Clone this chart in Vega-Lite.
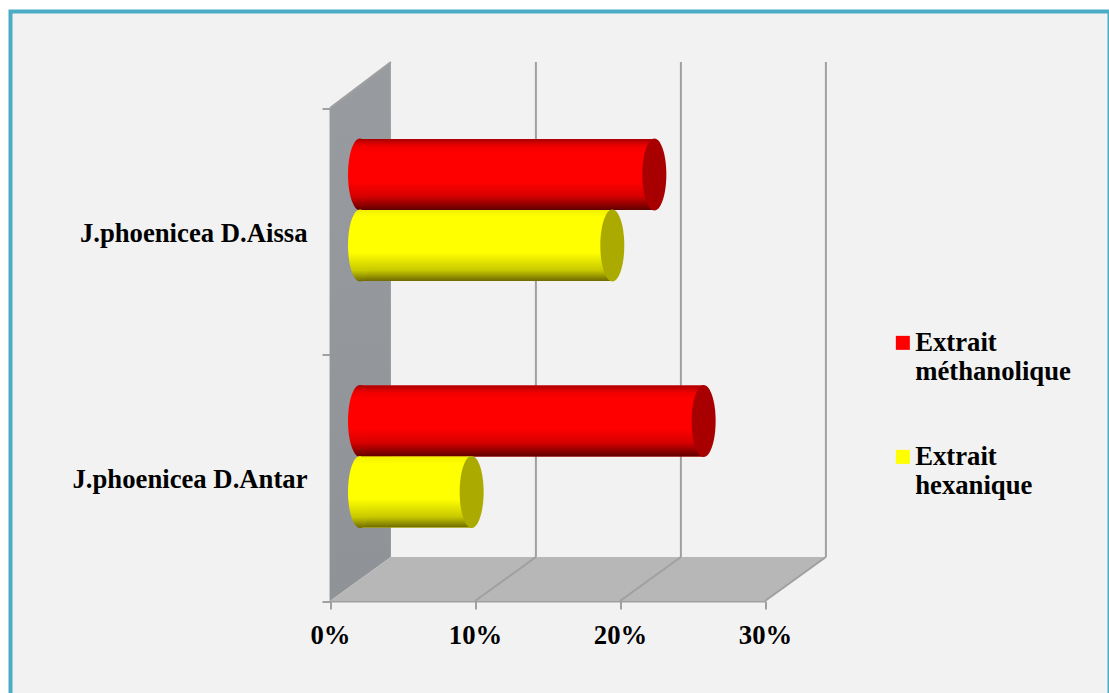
{
"$schema":"https://vega.github.io/schema/vega-lite/v6.json",
"width":1099,"height":686,
"autosize":{"type":"none"},
"padding":{"left":10.5,"top":11.5,"right":0,"bottom":0},
"background":"#ffffff",
"config":{"view":{"fill":"#f2f2f2","stroke":"#4bacc6","strokeWidth":4},"font":"Liberation Serif",
"axis":{"domainColor":"#a0a0a0","domainWidth":2,"tickColor":"#a0a0a0","tickWidth":2,"tickSize":8,"labelFont":"Liberation Serif","labelFontWeight":"bold","labelFontSize":26.7,"labelColor":"#000000","labelOverlap":false,"labelFlush":false,"grid":false,"zindex":1}},
"datasets":{
"extracts":[
{"species":"J.phoenicea D.Aissa","extract":"Extrait méthanolique","percent":20.3},
{"species":"J.phoenicea D.Aissa","extract":"Extrait hexanique","percent":17.4},
{"species":"J.phoenicea D.Antar","extract":"Extrait méthanolique","percent":23.7},
{"species":"J.phoenicea D.Antar","extract":"Extrait hexanique","percent":7.7}
],
"wall":[{"x":0,"low":0,"high":2},{"x":4.2,"low":0.1785,"high":2.1866}],
"floor":[{"x":0,"low":0,"high":0},{"x":4.2,"low":0,"high":0.1785},{"x":30,"low":0,"high":0.1785},{"x":34.2,"low":0.1785,"high":0.1785}],
"grid":[
{"x":14.2,"x2":14.2,"y":0.1785,"y2":2.1866},
{"x":24.2,"x2":24.2,"y":0.1785,"y2":2.1866},
{"x":34.2,"x2":34.2,"y":0.1785,"y2":2.1866},
{"x":10,"x2":14.2,"y":0,"y2":0.1785},
{"x":20,"x2":24.2,"y":0,"y2":0.1785},
{"x":30,"x2":34.2,"y":0,"y2":0.1785},
{"x":0,"x2":4.2,"y":2,"y2":2.1866}
]
},
"resolve":{"scale":{"y":"independent"}},
"layer":[
{"layer":[
{"data":{"name":"wall"},
 "mark":{"type":"area","color":{"gradient":"linear","x1":0,"y1":0,"x2":0,"y2":1,"stops":[{"offset":0,"color":"#989b9f"},{"offset":1,"color":"#8f9296"}]}},
 "encoding":{
  "x":{"field":"x","type":"quantitative","title":null,"scale":{"domain":[0,30],"range":[319.5,754.5],"nice":false,"zero":false},
   "axis":{"orient":"bottom","offset":-96.5,"values":[0,10,20,30],"labelExpr":"datum.value + '%'","labelPadding":13}},
  "y":{"field":"low","type":"quantitative","axis":null,"scale":{"domain":[0,2],"range":[589.5,96.5],"nice":false,"zero":false}},
  "y2":{"field":"high"}}},
{"data":{"name":"floor"},
 "mark":{"type":"area","color":"#b7b7b7"},
 "encoding":{
  "x":{"field":"x","type":"quantitative","title":null,
   "axis":{"orient":"bottom","offset":-96.5,"values":[0,10,20,30],"labelExpr":"datum.value + '%'","labelPadding":13}},
  "y":{"field":"low","type":"quantitative","axis":null},
  "y2":{"field":"high"}}},
{"data":{"name":"grid"},
 "mark":{"type":"rule","color":"#a0a0a0","strokeWidth":2},
 "encoding":{
  "x":{"field":"x","type":"quantitative","title":null,
   "axis":{"orient":"bottom","offset":-96.5,"values":[0,10,20,30],"labelExpr":"datum.value + '%'","labelPadding":13}},
  "x2":{"field":"x2"},
  "y":{"field":"y","type":"quantitative","axis":null},
  "y2":{"field":"y2"}}}
]},
{"data":{"name":"extracts"},
 "encoding":{
  "x":{"field":"percent","type":"quantitative","stack":null,"title":null,
   "axis":{"orient":"bottom","offset":-96.5,"values":[0,10,20,30],"labelExpr":"datum.value + '%'","labelPadding":13}},
  "y":{"field":"species","type":"nominal","title":null,
   "scale":{"domain":["J.phoenicea D.Aissa","J.phoenicea D.Antar"],"range":[96.5,589.5],"paddingInner":0,"paddingOuter":0},
   "axis":{"orient":"left","offset":-319.5,"tickBand":"extent","labelPadding":15,"labelOffset":2,"labelLimit":400}},
  "yOffset":{"field":"extract","type":"nominal","sort":["Extrait méthanolique","Extrait hexanique"],"scale":{"range":[31,173],"paddingInner":0,"paddingOuter":0}}
 },
 "layer":[
 {"mark":{"type":"bar","xOffset":30,"x2Offset":30},
  "encoding":{
   "x2":{"datum":0},
   "color":{"field":"extract","type":"nominal","sort":["Extrait méthanolique","Extrait hexanique"],
    "scale":{"domain":["Extrait méthanolique","Extrait hexanique"],"range":["#ff0000","#ffff00"]},
    "legend":{"orient":"none","legendX":879,"legendY":318,"title":null,"symbolType":"square","symbolSize":196,"symbolStrokeWidth":0,"labelFont":"Liberation Serif","labelFontWeight":"bold","labelFontSize":26.7,"labelColor":"#000000","labelLimit":300,"labelOffset":-1,"rowPadding":58,"labelExpr":"split(datum.label, ' ')"}}}},
 {"mark":{"type":"bar","xOffset":30,"x2Offset":30},
  "encoding":{
   "x2":{"datum":0},
   "fill":{"condition":{"test":"datum.extract === 'Extrait méthanolique'","value":{"gradient":"linear","x1":0,"y1":0,"x2":0,"y2":1,"stops":[{"offset":0,"color":"#a80000"},{"offset":0.1,"color":"#f00000"},{"offset":0.2,"color":"#ff0000"},{"offset":0.6,"color":"#ff0000"},{"offset":0.8,"color":"#d80000"},{"offset":1,"color":"#600000"}]}},
    "value":{"gradient":"linear","x1":0,"y1":0,"x2":0,"y2":1,"stops":[{"offset":0,"color":"#f0f000"},{"offset":0.1,"color":"#ffff00"},{"offset":0.6,"color":"#ffff00"},{"offset":0.85,"color":"#c8c800"},{"offset":1,"color":"#6e6a00"}]}}}},
 {"mark":{"type":"point","filled":true,"opacity":1,"strokeWidth":0,"size":5184,"xOffset":30,"shape":"M0,-1A0.333,1,0,1,1,0,1A0.333,1,0,1,1,0,-1Z"},
  "encoding":{
   "x":{"datum":0,"type":"quantitative"},
   "fill":{"condition":{"test":"datum.extract === 'Extrait méthanolique'","value":{"gradient":"linear","x1":0,"y1":0,"x2":0,"y2":1,"stops":[{"offset":0,"color":"#a80000"},{"offset":0.1,"color":"#f00000"},{"offset":0.2,"color":"#ff0000"},{"offset":0.6,"color":"#ff0000"},{"offset":0.8,"color":"#d80000"},{"offset":1,"color":"#600000"}]}},
    "value":{"gradient":"linear","x1":0,"y1":0,"x2":0,"y2":1,"stops":[{"offset":0,"color":"#f0f000"},{"offset":0.1,"color":"#ffff00"},{"offset":0.6,"color":"#ffff00"},{"offset":0.85,"color":"#c8c800"},{"offset":1,"color":"#6e6a00"}]}}}},
 {"mark":{"type":"point","filled":true,"opacity":1,"strokeWidth":0,"size":5184,"xOffset":30,"shape":"M0,-1A0.333,1,0,1,1,0,1A0.333,1,0,1,1,0,-1Z"},
  "encoding":{
   "fill":{"condition":{"test":"datum.extract === 'Extrait méthanolique'","value":"#a80000"},"value":"#aaaa00"}}}
 ]}
]
}
